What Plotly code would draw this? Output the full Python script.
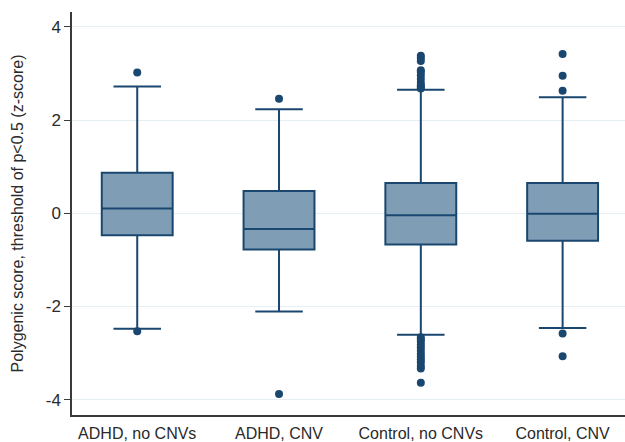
import plotly.graph_objects as go

categories = ["ADHD, no CNVs", "ADHD, CNV", "Control, no CNVs", "Control, CNV"]
q1 = [-0.47, -0.78, -0.67, -0.59]
median = [0.10, -0.34, -0.04, -0.01]
q3 = [0.87, 0.48, 0.65, 0.65]
lower_whisker = [-2.48, -2.11, -2.61, -2.46]
upper_whisker = [2.72, 2.23, 2.65, 2.49]

outliers_adhd_no = [3.02, -2.53]
outliers_adhd_cnv = [2.46, -3.88]
outliers_ctrl_no = [3.38, 3.33, 3.27, 3.07, 3.03, 2.96, 2.88, 2.80, 2.75, 2.71, 2.68,
                    -2.66, -2.71, -2.76, -2.82, -2.88, -2.95, -3.02, -3.08, -3.14,
                    -3.20, -3.28, -3.33, -3.64]
outliers_ctrl_cnv = [3.42, 2.95, 2.63, -2.58, -3.07]

y_ticks = [-4, -2, 0, 2, 4]
y_title = "Polygenic score, threshold of p<0.5 (z-score)"

navy = "#1a476f"
fill = "#7f9db4"

fig = go.Figure()
fig.add_trace(go.Box(
    x=categories, q1=q1, median=median, q3=q3,
    lowerfence=lower_whisker, upperfence=upper_whisker,
    fillcolor=fill, line=dict(color=navy, width=2),
    width=0.5, whiskerwidth=0.67, boxpoints=False, showlegend=False,
))

all_out = [outliers_adhd_no, outliers_adhd_cnv, outliers_ctrl_no, outliers_ctrl_cnv]
ox, oy = [], []
for cat, vals in zip(categories, all_out):
    ox += [cat] * len(vals)
    oy += vals
fig.add_trace(go.Scatter(
    x=ox, y=oy, mode="markers",
    marker=dict(color=navy, size=8, line=dict(width=0)),
    showlegend=False,
))

fig.update_layout(
    width=625, height=442,
    margin=dict(l=72, r=0, t=12, b=27),
    plot_bgcolor="white", paper_bgcolor="white",
    font=dict(family="Liberation Sans, Arial, sans-serif", color="#2a2a2a", size=16),
)
fig.update_xaxes(
    type="category", categoryorder="array", categoryarray=categories,
    range=[-0.46, 3.44], showline=True, linecolor="#3a3a3a", linewidth=1.5,
    showgrid=False, ticks="", tickfont=dict(size=16), ticklabelstandoff=3,
    automargin=False,
)
fig.update_yaxes(
    range=[-4.33, 4.32], tickvals=y_ticks, ticktext=[str(v) for v in y_ticks],
    showline=True, linecolor="#3a3a3a", linewidth=1.5,
    showgrid=True, gridcolor="#e3eff3", gridwidth=1, zeroline=False,
    ticks="outside", ticklen=6, tickcolor="#3a3a3a", tickfont=dict(size=17),
    title=dict(text=y_title, font=dict(size=16), standoff=18),
    automargin=False,
)

fig.write_html("out.html", config={"displayModeBar": False},
               post_script="document.body.style.margin='0';")
